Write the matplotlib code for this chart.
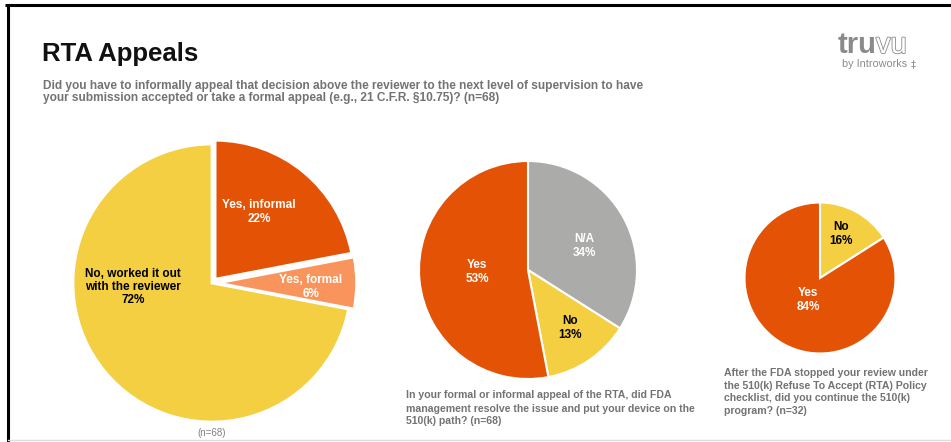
import matplotlib
matplotlib.use("Agg")
import matplotlib.pyplot as plt
from matplotlib import patheffects

plt.rcParams["font.family"] = ["Liberation Sans", "DejaVu Sans"]

W, H = 951, 442

# Survey results (percent of respondents)
appeal_labels = ["Yes, informal", "Yes, formal", "No, worked it out\nwith the reviewer"]
appeal_values = [22, 6, 72]
appeal_n = 68

resolve_labels = ["N/A", "No", "Yes"]
resolve_values = [34, 13, 53]

continue_labels = ["No", "Yes"]
continue_values = [16, 84]

title = "RTA Appeals"
subtitle_lines = [
    "Did you have to informally appeal that decision above the reviewer to the next level of supervision to have",
    "your submission accepted or take a formal appeal (e.g., 21 C.F.R. \u00a710.75)? (n=68)",
]
resolve_caption = [
    "In your formal or informal appeal of the RTA, did FDA",
    "management resolve the issue and put your device on the",
    "510(k) path? (n=68)",
]
continue_caption = [
    "After the FDA stopped your review under",
    "the 510(k) Refuse To Accept (RTA) Policy",
    "checklist, did you continue the 510(k)",
    "program? (n=32)",
]

ORANGE = "#E35205"
LIGHT_ORANGE = "#F9955C"
YELLOW = "#F3CF41"
GREY = "#ABABA9"
TEXT_GREY = "#737373"

fig = plt.figure(figsize=(W / 100, H / 100), dpi=100)
ax = fig.add_axes([0, 0, 1, 1])


def Y(y):
    """Convert a top-down pixel row into the axes' bottom-up coordinate."""
    return H - y


def pie_labels(names, values, positions, colors, size=8.5):
    for name, val, (x, y), c in zip(names, values, positions, colors):
        ax.text(x, Y(y), f"{name}\n{val}%", ha="center", va="center",
                multialignment="center", fontsize=size, fontweight="bold",
                color=c, linespacing=1.15)


# Left pie: appeal type
r1 = 139
ax.pie(appeal_values, colors=[ORANGE, LIGHT_ORANGE, YELLOW], startangle=90,
       counterclock=False, center=(212, Y(283)), radius=r1,
       explode=[0.035 * r1, 0.04 * r1, 0],
       wedgeprops=dict(edgecolor="white", linewidth=2))
pie_labels(appeal_labels, appeal_values,
           [(259, 212), (311, 287), (133, 287)],
           ["white", "white", "black"])
ax.text(212, Y(433), f"(n={appeal_n})", ha="center", va="center",
        fontsize=7, color="#808080")

# Middle pie: resolution by FDA management
r2 = 109
ax.pie(resolve_values, colors=[GREY, YELLOW, ORANGE], startangle=90,
       counterclock=False, center=(528, Y(270)), radius=r2,
       wedgeprops=dict(edgecolor="white", linewidth=1.5))
pie_labels(resolve_labels, resolve_values,
           [(584, 246), (570, 328), (477, 272)],
           ["white", "black", "white"])

# Right pie: continued with the 510(k) program
r3 = 75.5
ax.pie(continue_values, colors=[YELLOW, ORANGE], startangle=90,
       counterclock=False, center=(820, Y(278)), radius=r3,
       wedgeprops=dict(edgecolor="white", linewidth=1.5))
pie_labels(continue_labels, continue_values,
           [(841, 234), (808, 300)],
           ["black", "white"])

# Captions
for i, line in enumerate(resolve_caption):
    ax.text(406, Y(398.5 + 13 * i), line, ha="left", va="baseline",
            fontsize=7.6, fontweight="bold", color=TEXT_GREY)
for i, line in enumerate(continue_caption):
    ax.text(724, Y(376 + 12.6 * i), line, ha="left", va="baseline",
            fontsize=7.6, fontweight="bold", color=TEXT_GREY)

# Title and question
ax.text(42, Y(60.5), title, ha="left", va="baseline", fontsize=18.5,
        fontweight="bold", color="#111111")
for i, line in enumerate(subtitle_lines):
    ax.text(43, Y(89 + 12.5 * i), line, ha="left", va="baseline",
            fontsize=8.6, fontweight="bold", color=TEXT_GREY)

# Logo
ax.text(838, Y(53), "tru", ha="left", va="baseline", fontsize=21,
        fontweight="bold", color="#8a8a8a")
ax.text(876, Y(53), "vu", ha="left", va="baseline", fontsize=21,
        color="white",
        path_effects=[patheffects.withStroke(linewidth=1.2, foreground="#8a8a8a")])
ax.text(842, Y(67), "by Introworks", ha="left", va="baseline", fontsize=7.8,
        color="#8a8a8a")
ax.text(913, Y(67), "\u2021", ha="center", va="baseline", fontsize=7.5,
        color="#8a8a8a", family="DejaVu Sans")

# Frame lines
ax.plot([5, W], [Y(4.5), Y(4.5)], color="black", lw=2.2, solid_capstyle="butt",
        clip_on=False)
ax.plot([7.5, 7.5], [Y(4.5), 0], color="black", lw=2.2, solid_capstyle="butt",
        clip_on=False)
ax.plot([8, W], [Y(440), Y(440)], color="#dddddd", lw=1, clip_on=False)

ax.set_xlim(0, W)
ax.set_ylim(0, H)
ax.set_aspect("equal")
ax.axis("off")

fig.savefig("out.png", dpi=100, facecolor="white")
